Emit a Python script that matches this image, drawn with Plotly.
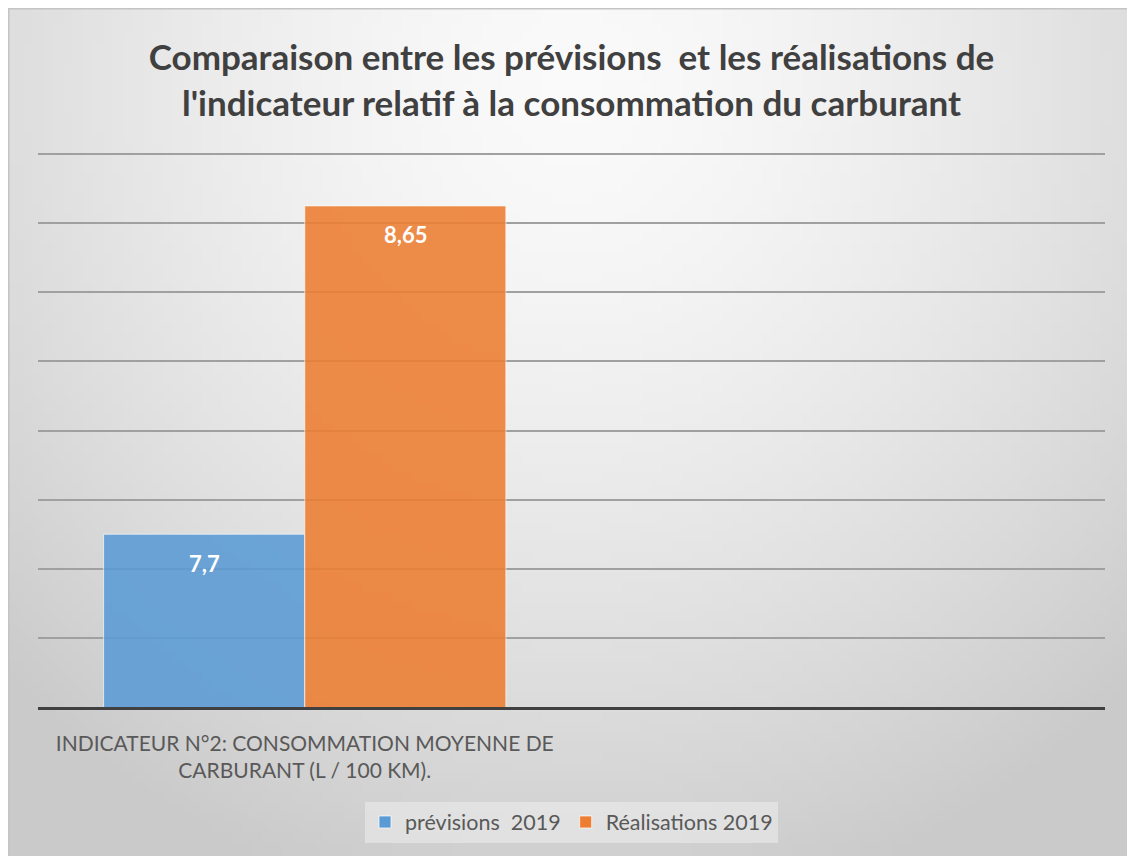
import base64, struct, zlib, math
import plotly.graph_objects as go

# ---- data ----
categories = ["INDICATEUR N°2: CONSOMMATION MOYENNE DE<br>CARBURANT (L / 100 KM).", " "]
series_names = ["prévisions  2019", "Réalisations 2019"]
previsions = [7.7, None]
realisations = [8.65, None]
labels_prev = ["7,7", None]
labels_real = ["8,65", None]

W, H = 1127, 848
ML, MR, MT, MB = 30, 30, 145, 149
BARGAP = 0.246
FONT = "Lato, Open Sans, sans-serif"

# ---- radial gradient background as PNG data URI ----
def make_png(w, h, fn):
    raw = b""
    for j in range(h):
        row = bytearray([0])
        for i in range(w):
            v = fn(i, j)
            row += bytes([v, v, v])
        raw += bytes(row)
    def chunk(t, d):
        c = struct.pack(">I", len(d)) + t + d
        return c + struct.pack(">I", zlib.crc32(t + d) & 0xffffffff)
    png = b"\x89PNG\r\n\x1a\n"
    png += chunk(b"IHDR", struct.pack(">IIBBBBB", w, h, 8, 2, 0, 0, 0))
    png += chunk(b"IDAT", zlib.compress(raw, 9))
    png += chunk(b"IEND", b"")
    return "data:image/png;base64," + base64.b64encode(png).decode()

gw, gh = 113, 85
def grad(i, j):
    px = (i + 0.5) * W / gw
    py = (j + 0.5) * H / gh
    t = math.hypot((px - 565) / 800.0, (py - 80) / 840.0)
    t = min(t, 1.0)
    return int(round(250 - 48 * t ** 1.5))
bg_uri = make_png(gw, gh, grad)

pw = W - ML - MR
ph = H - MT - MB
def px2x(p):
    return (p - ML) / pw
def py2y(p):
    return (H - MB - p) / ph

fig = go.Figure()
colors = ["#5B9BD5", "#ED7D31"]
values = [previsions, realisations]
labels = [labels_prev, labels_real]
for k in range(2):
    fig.add_trace(go.Bar(
        name=series_names[k], x=categories, y=values[k],
        marker=dict(color=colors[k], opacity=0.88,
                    line=dict(color="rgba(255,255,255,0.7)", width=1)),
        hoverinfo="skip",
    ))

# data labels inside the top of each bar
annotations = []
half = (1 - BARGAP) / 4
for k in range(2):
    for ci, (v, lab) in enumerate(zip(values[k], labels[k])):
        if v is None or lab is None:
            continue
        annotations.append(dict(
            xref="x", yref="y", x=ci + (-half if k == 0 else half), y=v,
            text="<b>" + lab + "</b>", showarrow=False, yanchor="middle", yshift=-29,
            font=dict(family=FONT, size=22, color="white"),
        ))

fig.update_layout(
    width=W, height=H,
    margin=dict(l=ML, r=MR, t=MT, b=MB, pad=0),
    paper_bgcolor="#d8d8d8",
    plot_bgcolor="rgba(0,0,0,0)",
    barmode="group", bargap=BARGAP, bargroupgap=0,
    font=dict(family=FONT, color="#595959"),
    title=dict(
        text="<b>Comparaison entre les prévisions  et les réalisations de<br>l'indicateur relatif à la consommation du carburant</b>",
        x=0.5, xref="paper", xanchor="center", y=1 - 62 / H, yanchor="middle",
        font=dict(family=FONT, size=35, color="#404040"),
    ),
    legend=dict(
        orientation="h", x=0.5, xanchor="center", y=py2y(814), yanchor="middle",
        bgcolor="rgba(255,255,255,0.35)", font=dict(size=21.5, color="#595959"),
        itemclick=False, itemdoubleclick=False, traceorder="normal",
    ),
    xaxis=dict(
        showgrid=False, showline=True, linecolor="#404040", linewidth=2.5,
        ticks="", tickfont=dict(size=21, color="#595959"), ticklabelstandoff=16,
        fixedrange=True,
    ),
    yaxis=dict(
        range=[7.2, 8.803], dtick=0.2, tick0=7.2, showticklabels=False,
        showgrid=True, gridcolor="#a0a0a0", gridwidth=1.5,
        zeroline=False, showline=False, ticks="", fixedrange=True,
    ),
    annotations=annotations,
    images=[dict(
        source=bg_uri, xref="paper", yref="paper",
        x=px2x(0), y=py2y(0), sizex=px2x(W) - px2x(0), sizey=py2y(0) - py2y(H),
        xanchor="left", yanchor="top", sizing="stretch", layer="below",
    )],
    shapes=[dict(
        type="rect", xref="paper", yref="paper",
        x0=px2x(0.75), x1=px2x(W + 5), y0=py2y(H + 5), y1=py2y(0.75),
        line=dict(color="#c4c4c4", width=1.5), fillcolor="rgba(0,0,0,0)", layer="below",
    )],
    showlegend=True,
)

fig.write_html("out.html", config={"displayModeBar": False})
